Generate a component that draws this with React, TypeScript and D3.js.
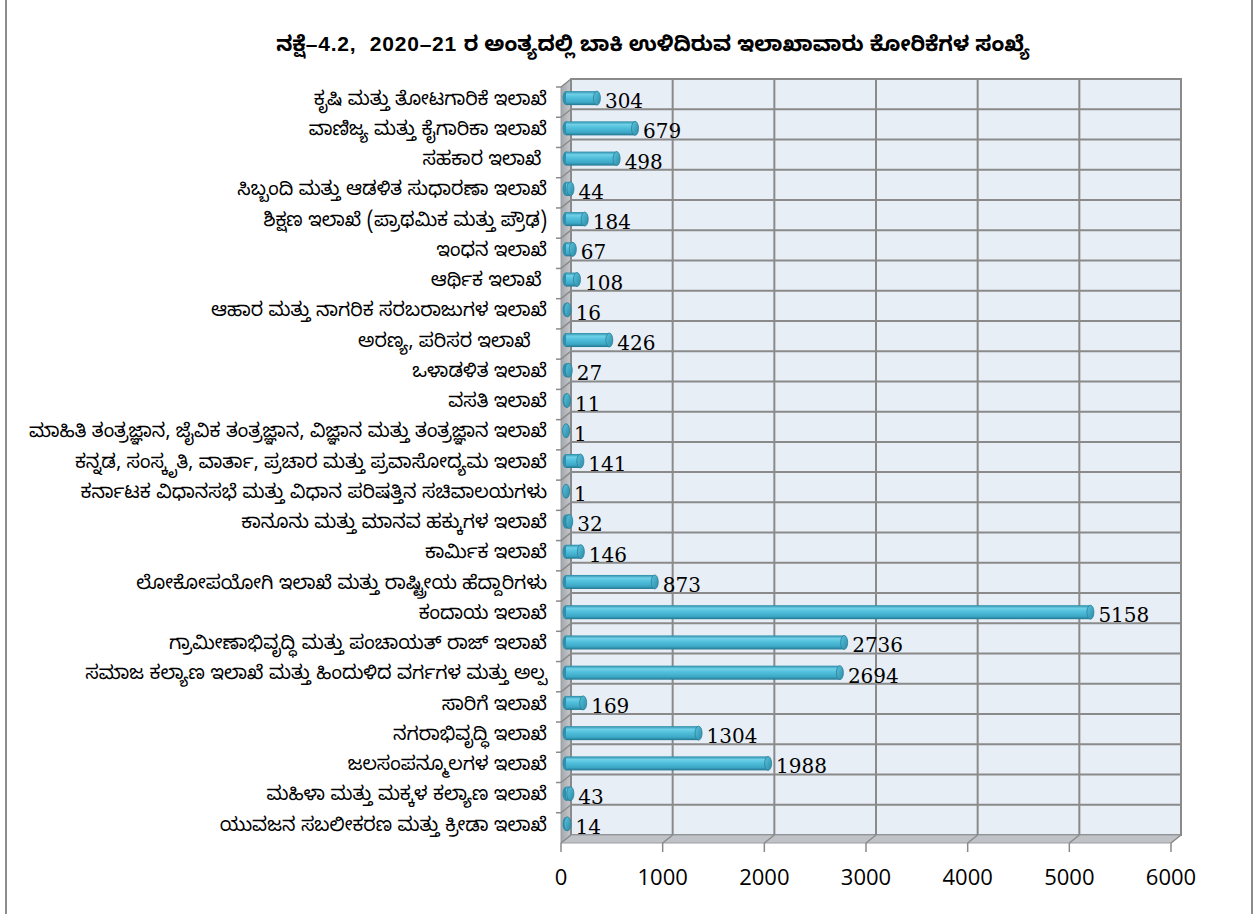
import * as d3 from 'd3';

// chart data, top to bottom as in the picture
const departments = [
  'ಕೃಷಿ ಮತ್ತು ತೋಟಗಾರಿಕೆ ಇಲಾಖೆ',
  'ವಾಣಿಜ್ಯ ಮತ್ತು ಕೈಗಾರಿಕಾ ಇಲಾಖೆ',
  'ಸಹಕಾರ ಇಲಾಖೆ ',
  'ಸಿಬ್ಬಂದಿ ಮತ್ತು ಆಡಳಿತ ಸುಧಾರಣಾ ಇಲಾಖೆ',
  'ಶಿಕ್ಷಣ ಇಲಾಖೆ (ಪ್ರಾಥಮಿಕ ಮತ್ತು ಪ್ರೌಢ)',
  'ಇಂಧನ ಇಲಾಖೆ',
  'ಆರ್ಥಿಕ ಇಲಾಖೆ ',
  'ಆಹಾರ ಮತ್ತು ನಾಗರಿಕ ಸರಬರಾಜುಗಳ ಇಲಾಖೆ',
  'ಅರಣ್ಯ, ಪರಿಸರ ಇಲಾಖೆ   ',
  'ಒಳಾಡಳಿತ ಇಲಾಖೆ',
  'ವಸತಿ ಇಲಾಖೆ',
  'ಮಾಹಿತಿ ತಂತ್ರಜ್ಞಾನ, ಜೈವಿಕ ತಂತ್ರಜ್ಞಾನ, ವಿಜ್ಞಾನ ಮತ್ತು ತಂತ್ರಜ್ಞಾನ ಇಲಾಖೆ',
  'ಕನ್ನಡ, ಸಂಸ್ಕೃತಿ, ವಾರ್ತಾ, ಪ್ರಚಾರ ಮತ್ತು ಪ್ರವಾಸೋದ್ಯಮ ಇಲಾಖೆ',
  'ಕರ್ನಾಟಕ ವಿಧಾನಸಭೆ ಮತ್ತು ವಿಧಾನ ಪರಿಷತ್ತಿನ ಸಚಿವಾಲಯಗಳು',
  'ಕಾನೂನು ಮತ್ತು ಮಾನವ ಹಕ್ಕುಗಳ ಇಲಾಖೆ',
  'ಕಾರ್ಮಿಕ ಇಲಾಖೆ',
  'ಲೋಕೋಪಯೋಗಿ ಇಲಾಖೆ ಮತ್ತು ರಾಷ್ಟ್ರೀಯ ಹೆದ್ದಾರಿಗಳು',
  'ಕಂದಾಯ ಇಲಾಖೆ',
  'ಗ್ರಾಮೀಣಾಭಿವೃದ್ಧಿ ಮತ್ತು ಪಂಚಾಯತ್ ರಾಜ್ ಇಲಾಖೆ',
  'ಸಮಾಜ ಕಲ್ಯಾಣ ಇಲಾಖೆ ಮತ್ತು ಹಿಂದುಳಿದ ವರ್ಗಗಳ ಮತ್ತು ಅಲ್ಪ',
  'ಸಾರಿಗೆ ಇಲಾಖೆ',
  'ನಗರಾಭಿವೃದ್ಧಿ ಇಲಾಖೆ',
  'ಜಲಸಂಪನ್ಮೂಲಗಳ ಇಲಾಖೆ',
  'ಮಹಿಳಾ ಮತ್ತು ಮಕ್ಕಳ ಕಲ್ಯಾಣ ಇಲಾಖೆ',
  'ಯುವಜನ ಸಬಲೀಕರಣ ಮತ್ತು ಕ್ರೀಡಾ ಇಲಾಖೆ',
];

const pending = [
  304, 679, 498, 44, 184, 67, 108, 16, 426, 27, 11, 1, 141, 1, 32, 146, 873,
  5158, 2736, 2694, 169, 1304, 1988, 43, 14,
];

const xTicks = [0, 1000, 2000, 3000, 4000, 5000, 6000];

// title pieces: kannada / latin / kannada
const titleParts = [
  { text: 'ನಕ್ಷೆ', kn: true },
  { text: '–4.2,  2020–21 ', kn: false },
  { text: 'ರ ಅಂತ್ಯದಲ್ಲಿ ಬಾಕಿ ಉಳಿದಿರುವ ಇಲಾಖಾವಾರು ಕೋರಿಕೆಗಳ ಸಂಖ್ಯೆ', kn: true },
];

const WIDTH = 1258;
const HEIGHT = 914;

// 3d depth shift of the back wall
const DX = 10;
const DY = -8;

const gridColor = '#8a8a8a';
const knFont = "'Noto Sans Kannada', 'Noto Serif Kannada', 'Lohit Kannada', 'Tunga', 'Noto Sans', sans-serif";

export default function App() {
  // front plane scales
  const x = d3.scaleLinear().domain([0, 6000]).range([561, 1171]);
  const y = d3.scaleBand<string>().domain(departments).range([87, 843]);

  const bw = y.bandwidth();
  const [fy0, fy1] = y.range();
  const [fx0, fx1] = x.range();

  const barH = 14;
  const capRx = 3.5;

  return (
    <svg
      width={WIDTH}
      height={HEIGHT}
      style={{ position: 'absolute', left: 0, top: 0, background: '#fff' }}
    >
      <defs>
        <linearGradient id="cyl" x1="0" y1="0" x2="0" y2="1">
          <stop offset="0%" stopColor="#2b8aa6" />
          <stop offset="22%" stopColor="#6fd0e8" />
          <stop offset="45%" stopColor="#52c0dc" />
          <stop offset="80%" stopColor="#3ba7c5" />
          <stop offset="100%" stopColor="#23758f" />
        </linearGradient>
        <linearGradient id="cap" x1="0" y1="0" x2="1" y2="1">
          <stop offset="0%" stopColor="#5cc4de" />
          <stop offset="100%" stopColor="#2a8aa6" />
        </linearGradient>
        <linearGradient id="side" x1="0" y1="0" x2="1" y2="0">
          <stop offset="0%" stopColor="#a3a7ab" />
          <stop offset="100%" stopColor="#c6c9cd" />
        </linearGradient>
      </defs>

      {/* page frame */}
      <line x1={6} y1={0} x2={6} y2={HEIGHT} stroke="#8c8c8c" strokeWidth={2} />
      <line x1={1252} y1={0} x2={1252} y2={HEIGHT} stroke="#8c8c8c" strokeWidth={2} />

      {/* title */}
      <text
        x={653}
        y={51}
        textAnchor="middle"
        fontWeight="bold"
        style={{ whiteSpace: 'pre' }}
      >
        {titleParts.map((p, i) => (
          <tspan
            key={i}
            fontSize={21}
            letterSpacing={p.kn ? 0 : 0.8}
            fontFamily={p.kn ? knFont : "'Liberation Sans', sans-serif"}
          >
            {p.text}
          </tspan>
        ))}
      </text>

      {/* back wall */}
      <rect
        x={fx0 + DX}
        y={fy0 + DY}
        width={fx1 - fx0}
        height={fy1 - fy0}
        fill="#e7eef6"
        stroke={gridColor}
        strokeWidth={2}
      />

      {/* side wall */}
      <polygon
        points={`${fx0},${fy0} ${fx0 + DX},${fy0 + DY} ${fx0 + DX},${fy1 + DY} ${fx0},${fy1}`}
        fill="url(#side)"
        stroke="#9a9ea2"
        strokeWidth={1}
      />

      {/* floor */}
      <polygon
        points={`${fx0},${fy1} ${fx0 + DX},${fy1 + DY} ${fx1 + DX},${fy1 + DY} ${fx1},${fy1}`}
        fill="#bfc3c7"
        stroke="#9a9ea2"
        strokeWidth={1}
      />

      {/* vertical gridlines + floor diagonals + ticks */}
      {xTicks.map((t) => (
        <g key={`xt${t}`}>
          <line
            x1={x(t) + DX}
            x2={x(t) + DX}
            y1={fy0 + DY}
            y2={fy1 + DY}
            stroke={gridColor}
            strokeWidth={2}
          />
          <line
            x1={x(t)}
            y1={fy1}
            x2={x(t) + DX}
            y2={fy1 + DY}
            stroke={gridColor}
            strokeWidth={1.5}
          />
          <line x1={x(t)} x2={x(t)} y1={fy1} y2={fy1 + 9} stroke={gridColor} strokeWidth={1.5} />
          <text
            x={x(t)}
            y={885}
            textAnchor="middle"
            fontFamily="'Open Sans', 'Noto Sans', sans-serif"
            fontSize={22}
            fill="#000"
          >
            {t}
          </text>
        </g>
      ))}

      {/* horizontal gridlines on back wall, diagonals on side wall */}
      {departments.map((d) => (
        <g key={`g${d}`}>
          <line
            x1={fx0 + DX}
            x2={fx1 + DX}
            y1={(y(d) as number) + DY}
            y2={(y(d) as number) + DY}
            stroke={gridColor}
            strokeWidth={2}
          />
          <line
            x1={fx0}
            y1={y(d) as number}
            x2={fx0 + DX}
            y2={(y(d) as number) + DY}
            stroke={gridColor}
            strokeWidth={1.5}
          />
          <line
            x1={fx0 - 5}
            x2={fx0}
            y1={y(d) as number}
            y2={y(d) as number}
            stroke={gridColor}
            strokeWidth={1.5}
          />
        </g>
      ))}

      {/* cylinders */}
      {departments.map((d, i) => {
        const v = pending[i];
        const cy = (y(d) as number) + bw / 2 + DY / 2;
        const bx0 = x(0) + DX / 2;
        const bx1 = x(v) + DX / 2;
        return (
          <g key={`b${d}`}>
            <ellipse cx={bx0} cy={cy} rx={capRx} ry={barH / 2} fill="#2f90ad" />
            <rect x={bx0} y={cy - barH / 2} width={bx1 - bx0} height={barH} fill="url(#cyl)" />
            <ellipse
              cx={bx1}
              cy={cy}
              rx={capRx}
              ry={barH / 2}
              fill="url(#cap)"
              stroke="#2a7f99"
              strokeWidth={0.8}
            />
            <text
              x={bx1 + 8}
              y={cy + 10}
              fontFamily="'DejaVu Serif', serif"
              fontSize={20}
              fill="#000"
            >
              {v}
            </text>
          </g>
        );
      })}

      {/* category labels */}
      {departments.map((d) => (
        <text
          key={`l${d}`}
          x={547}
          y={(y(d) as number) + bw / 2 - 4}
          dy="0.35em"
          textAnchor="end"
          fontFamily={knFont}
          fontSize={19}
          fill="#000"
          style={{ whiteSpace: 'pre' }}
        >
          {d}
        </text>
      ))}
    </svg>
  );
}
